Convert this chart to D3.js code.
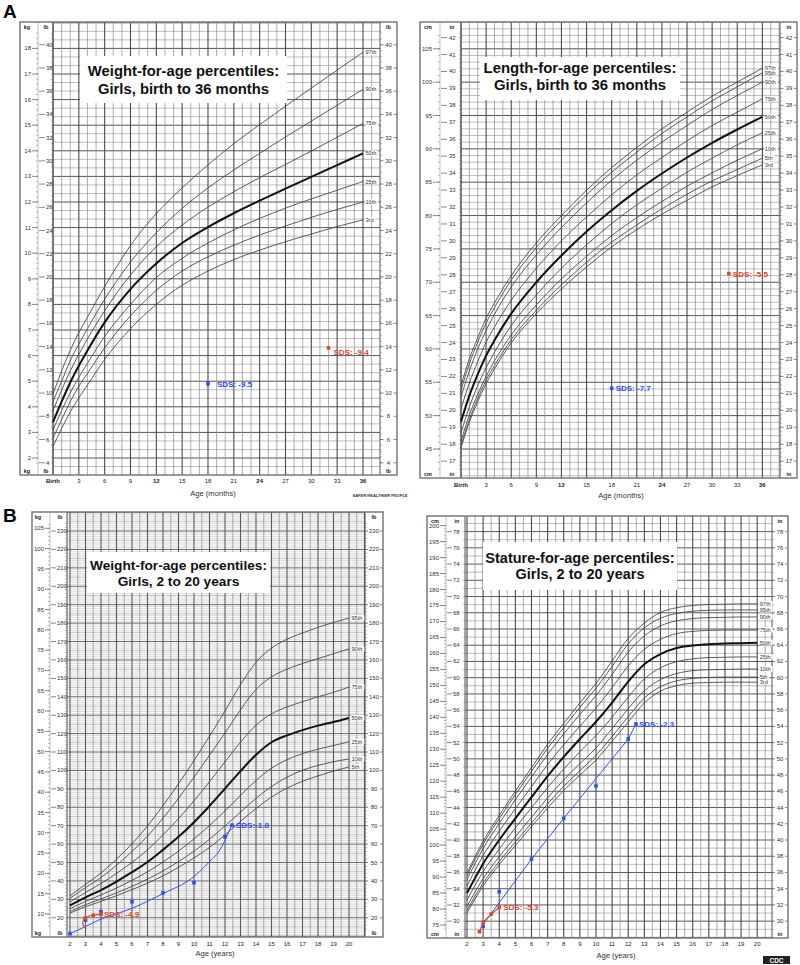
<!DOCTYPE html>
<html><head><meta charset="utf-8">
<script src="https://cdn.jsdelivr.net/npm/d3@7"></script>
<style>
html,body{margin:0;padding:0;background:#fff;}
svg{display:block;font-family:"Liberation Sans",Arial,Helvetica,sans-serif;}
</style></head><body>
<svg id="c" width="800" height="965"></svg>
<script>
// ================= DATA =================
// Panel A left: weight-for-age, girls birth-36 months (kg)
const infMonths = [0,1,2,3,4,6,9,12,15,18,21,24,27,30,33,36];
const wtInf97 = [4.5,5.4,6.2,6.9,7.5,8.7,10.3,11.55,12.55,13.45,14.28,15.02,15.74,16.45,17.15,17.85];
const wtInf90 = [4.2,5.0,5.8,6.45,7.05,8.2,9.65,10.8,11.75,12.55,13.25,13.9,14.54,15.16,15.78,16.4];
const wtInf75 = [3.85,4.65,5.4,6.05,6.65,7.75,9.15,10.25,11.1,11.8,12.4,12.95,13.47,13.99,14.53,15.07];
const wtInf50 = [3.4,4.2,4.95,5.6,6.2,7.3,8.6,9.6,10.4,11.02,11.56,12.05,12.52,12.98,13.44,13.9];
const wtInf25 = [3.1,3.85,4.55,5.15,5.7,6.75,8.0,9.05,9.8,10.4,10.91,11.36,11.76,12.12,12.46,12.8];
const wtInf10 = [2.77,3.5,4.2,4.8,5.3,6.3,7.55,8.55,9.3,9.86,10.31,10.71,11.06,11.4,11.71,12.0];
const wtInf3  = [2.45,3.15,3.8,4.35,4.85,5.85,7.05,8.0,8.75,9.3,9.75,10.12,10.45,10.75,11.04,11.3];
const wtInfLabels = ["97th","90th","75th","50th","25th","10th","3rd"];
const wtInfBlue = [[18, 4.9]];
const wtInfRed  = [[32, 6.3]];

// Panel A right: length-for-age, girls birth-36 months (cm)
const lenInf97 = [54.5,58.5,61.7,64.6,66.9,71.0,75.9,80.0,83.8,87.2,90.2,93.0,95.5,97.9,100.0,102.1];
const lenInf95 = [53.8,57.8,61.0,63.9,66.2,70.3,75.2,79.3,83.1,86.5,89.5,92.3,94.8,97.2,99.3,101.4];
const lenInf90 = [52.8,56.7,60.0,62.8,65.2,69.3,74.1,78.2,81.9,85.3,88.3,91.0,93.5,95.9,98.0,100.0];
const lenInf75 = [51.0,54.9,58.1,61.0,63.3,67.3,72.1,76.2,79.8,83.1,86.1,88.7,91.2,93.5,95.5,97.5];
const lenInf50 = [49.1,53.0,56.2,59.0,61.3,65.3,70.0,74.0,77.6,80.8,83.7,86.3,88.7,90.9,92.9,94.8];
const lenInf25 = [47.4,51.3,54.5,57.2,59.5,63.5,68.1,72.1,75.6,78.8,81.6,84.1,86.5,88.6,90.6,92.4];
const lenInf10 = [46.2,50.1,53.2,55.9,58.2,62.1,66.6,70.5,73.9,77.0,79.7,82.1,84.4,86.4,88.3,90.0];
const lenInf5  = [45.6,49.4,52.6,55.3,57.5,61.4,65.8,69.6,73.0,76.0,78.6,81.0,83.2,85.2,86.9,88.6];
const lenInf3  = [45.2,49.0,52.1,54.8,57.0,60.9,65.3,69.0,72.3,75.3,77.9,80.2,82.3,84.3,86.0,87.6];
const lenInfLabels = ["97th","95th","90th","75th","50th","25th","10th","5th","3rd"];
const lenInfBlue = [[18, 54.1]];
const lenInfRed  = [[32, 71.3]];

// Panel B left: weight-for-age, girls 2-20 years (kg)
const childYears = [2,3,4,5,6,7,8,9,10,11,12,13,14,15,16,17,18,19,20];
const wtCh95 = [14.5,17.3,20.1,23.5,27.3,31.7,36.7,42.1,47.8,53.8,60.0,66.5,72.0,75.5,77.7,79.2,80.6,81.8,82.9];
const wtCh90 = [13.9,16.5,19.0,22.0,25.4,29.2,33.6,38.5,43.7,49.1,54.6,60.3,65.3,68.4,70.3,71.7,72.9,74.1,75.3];
const wtCh75 = [13.0,15.3,17.5,20.0,22.7,25.8,29.5,33.5,37.9,42.6,47.5,52.3,56.5,59.3,61.0,62.3,63.5,64.6,65.9];
const wtCh50 = [12.1,14.1,15.9,18.0,20.3,22.8,25.8,29.0,32.6,36.6,40.9,45.2,49.2,52.3,54.0,55.3,56.4,57.3,58.3];
const wtCh25 = [11.3,13.1,14.7,16.4,18.3,20.4,22.8,25.5,28.5,31.8,35.4,39.2,42.9,45.9,48.0,49.5,50.6,51.5,52.4];
const wtCh10 = [10.6,12.3,13.7,15.2,16.8,18.6,20.6,22.9,25.5,28.4,31.7,35.1,38.5,41.4,43.7,45.4,46.6,47.5,48.2];
const wtCh5  = [10.2,11.8,13.1,14.5,16.0,17.6,19.4,21.5,23.8,26.4,29.5,32.8,36.0,38.8,41.0,42.7,44.0,45.2,46.2];
const wtChLabels = ["95th","90th","75th","50th","25th","10th","5th"];
const wtChBlueFit = [[2.0,5.2],[3.0,6.9],[3.85,8.5],[6.0,11.4],[8.1,15.2],[9.85,18.8],[10.9,22.5],[11.8,26.6],[12.2,29.9],[12.45,31.9]];
const wtChBluePts = [[2.0,5.2],[3.0,8.5],[4.0,10.6],[6.0,13.0],[8.0,15.2],[10.0,17.7],[12.0,29.0],[12.45,31.9]];
const wtChRedFit = [[3.05,6.4],[2.82,7.6],[2.97,9.0],[3.5,9.7],[4.0,9.9]];
const wtChRedPts = [[2.97,9.0],[3.5,9.7],[4.0,9.9]];

// Panel B right: stature-for-age, girls 2-20 years (cm)
const st97 = [91.2,101.2,109.3,116.9,124.2,131.6,138.1,144.5,150.6,157.6,164.7,169.5,172.8,174.3,175.0,175.3,175.4,175.5,175.5];
const st95 = [90.4,100.3,108.3,115.8,123.1,130.3,136.8,143.1,149.1,155.9,163.0,168.0,171.0,172.5,173.2,173.5,173.6,173.6,173.6];
const st90 = [89.2,98.9,106.8,114.2,121.3,128.4,134.8,140.9,146.8,153.4,160.4,165.5,168.6,170.2,170.9,171.2,171.3,171.4,171.4];
const st75 = [87.2,96.7,104.4,111.4,118.3,125.2,131.4,137.2,142.9,149.3,156.1,161.3,164.4,166.2,166.9,167.2,167.3,167.3,167.3];
const st50 = [85.0,94.2,101.6,108.4,115.0,121.6,127.6,133.2,138.6,144.6,151.2,156.6,159.8,161.7,162.5,162.9,163.1,163.2,163.3];
const st25 = [82.8,91.7,98.8,105.4,111.7,118.0,123.8,129.2,134.3,140.0,146.3,152.0,155.5,157.4,158.3,158.7,158.8,158.9,158.9];
const st10 = [80.8,89.5,96.4,102.6,108.7,114.8,120.4,125.5,130.4,136.5,142.7,148.3,151.8,153.7,154.6,154.9,155.0,155.1,155.1];
const st5  = [79.6,88.1,94.9,101.0,106.9,112.9,118.4,123.3,128.1,134.0,140.2,146.0,149.6,151.4,152.2,152.5,152.6,152.6,152.6];
const st3  = [78.8,87.2,93.9,99.9,105.8,111.6,117.1,121.9,126.6,132.5,138.5,144.5,148.2,149.9,150.7,150.9,151.0,151.0,151.0];
const stLabels = ["97th","95th","90th","75th","50th","25th","10th","5th","3rd"];
const stBlueFit = [[3.0,75.2],[6.0,95.6],[8.0,108.4],[12.0,133.2],[12.48,137.9]];
const stBluePts = [[3.0,74.6],[4.0,85.4],[6.0,95.6],[8.0,108.4],[10.0,118.5],[12.0,133.2],[12.48,137.9]];
const stRedFit = [[2.77,72.9],[3.0,75.8],[3.5,78.4],[4.0,80.5]];
const stRedPts = [[2.77,72.9],[3.0,75.8],[3.5,78.4],[4.0,80.5]];

// tick labels
const monthTickVals = [0,3,6,9,12,15,18,21,24,27,30,33,36];
const monthTickLabels = ["Birth","3","6","9","12","15","18","21","24","27","30","33","36"];
const monthBold = ["Birth","12","24","36"];
const yearTickVals = [2,3,4,5,6,7,8,9,10,11,12,13,14,15,16,17,18,19,20];
const yearTickLabels = yearTickVals.map(String);

// ================= DRAWING =================
const svg = d3.select("#c");
const BLUE = "#2f4dff", RED = "#e0442c";

function rangeSteps(a, b, step) {
  const out = [];
  for (let i = Math.ceil(a/step - 1e-9); i*step <= b + 1e-9; i++) out.push(+(i*step).toFixed(6));
  return out;
}
function isMult(v, m) { return Math.abs(v/m - Math.round(v/m)) < 1e-6; }

function drawPanel(p) {
  const g = svg.append("g");
  const x = d3.scaleLinear().domain(p.xDom).range(p.xRng);
  const y = d3.scaleLinear().domain(p.yDom).range(p.yRng);
  const y2 = d3.scaleLinear().domain([p.yDom[0]*p.conv, p.yDom[1]*p.conv]).range(p.yRng);
  const [fx0, fy0, fx1, fy1] = p.frame;
  const [gx0, gx1] = p.gridX;
  g.append("rect").attr("x", fx0).attr("y", fy0).attr("width", fx1-fx0).attr("height", fy1-fy0)
    .attr("fill", "#fff");

  const grid = g.append("g");
  // horizontal grid
  const hs = p.hOnSec ? y2 : y;
  const hv = rangeSteps(hs.invert(fy1), hs.invert(fy0), p.hStep);
  hv.forEach(v => {
    const major = isMult(v, p.hMajor);
    const mid = p.hMid && isMult(v, p.hMid);
    grid.append("line").attr("x1", gx0).attr("x2", gx1).attr("y1", hs(v)).attr("y2", hs(v))
      .attr("stroke", major ? p.hMajorColor : (mid ? "#808080" : p.hMinorColor))
      .attr("stroke-width", major ? 1 : (p.hMinorW || 0.65));
  });
  // vertical grid
  const vv = rangeSteps(x.invert(gx0), x.invert(gx1), p.vStep);
  vv.forEach(v => {
    const major = isMult(v, p.vMajor);
    grid.append("line").attr("y1", fy0).attr("y2", fy1).attr("x1", x(v)).attr("x2", x(v))
      .attr("stroke", major ? p.vMajorColor : p.vMinorColor)
      .attr("stroke-width", major ? 1.1 : 0.7);
  });
  // column dividers
  [gx0, gx1].forEach(xx => grid.append("line").attr("x1", xx).attr("x2", xx).attr("y1", fy0).attr("y2", fy1)
    .attr("stroke", "#555").attr("stroke-width", 1));
  grid.append("line").attr("x1", p.priTickX[1]).attr("x2", p.priTickX[1]).attr("y1", fy0).attr("y2", fy1)
    .attr("stroke", "#999").attr("stroke-width", 0.6);

  // axis labels & ticks
  const lab = g.append("g").attr("font-size", 6).attr("fill", "#333");
  const inside = yy => yy > fy0 + 9 && yy < fy1 - 8;
  p.priTicks.forEach(v => {
    const yy = y(v); if (!inside(yy)) return;
    lab.append("text").attr("x", p.priLabelX).attr("y", yy + 2).attr("text-anchor", "end").text(v);
    lab.append("line").attr("x1", p.priTickX[0]).attr("x2", p.priTickX[1]).attr("y1", yy).attr("y2", yy)
      .attr("stroke", "#555").attr("stroke-width", 0.7);
  });
  rangeSteps(y.invert(fy1 - 8), y.invert(fy0 + 9), p.priMinor).forEach(v => {
    lab.append("line").attr("x1", p.priTickX[1] - 2).attr("x2", p.priTickX[1]).attr("y1", y(v)).attr("y2", y(v))
      .attr("stroke", "#777").attr("stroke-width", 0.5);
  });
  p.secTicks.forEach(v => {
    const yy = y2(v); if (!inside(yy)) return;
    lab.append("text").attr("x", p.secLabelX).attr("y", yy + 2).attr("text-anchor", "start").text(v);
    lab.append("line").attr("x1", p.secTickX[0]).attr("x2", p.secTickX[1]).attr("y1", yy).attr("y2", yy)
      .attr("stroke", "#555").attr("stroke-width", 0.7);
    lab.append("text").attr("x", p.rightLabelX).attr("y", yy + 2).attr("text-anchor", "middle").text(v);
    p.rightTickX.forEach(seg => lab.append("line").attr("x1", seg[0]).attr("x2", seg[1]).attr("y1", yy).attr("y2", yy)
      .attr("stroke", "#555").attr("stroke-width", 0.7));
  });
  rangeSteps(y2.invert(fy1 - 8), y2.invert(fy0 + 9), p.secMinor).forEach(v => {
    lab.append("line").attr("x1", gx0 - 2).attr("x2", gx0).attr("y1", y2(v)).attr("y2", y2(v))
      .attr("stroke", "#777").attr("stroke-width", 0.5);
    lab.append("line").attr("x1", gx1).attr("x2", gx1 + 2).attr("y1", y2(v)).attr("y2", y2(v))
      .attr("stroke", "#777").attr("stroke-width", 0.5);
  });
  // unit headers
  const un = g.append("g").attr("font-size", 5.5).attr("font-weight", "bold").attr("fill", "#222").attr("text-anchor", "middle");
  [fy0 + 7, fy1 - 2.5].forEach(yy => {
    un.append("text").attr("x", p.unitX[0]).attr("y", yy).text(p.units[0]);
    un.append("text").attr("x", p.unitX[1]).attr("y", yy).text(p.units[1]);
    un.append("text").attr("x", p.unitX[2]).attr("y", yy).text(p.units[1]);
  });

  // frame
  g.append("rect").attr("x", fx0).attr("y", fy0).attr("width", fx1-fx0).attr("height", fy1-fy0)
    .attr("fill", "none").attr("stroke", "#7a7a7a").attr("stroke-width", 1.5);

  // title box
  const tb = p.titleBox;
  g.append("rect").attr("x", tb[0]).attr("y", tb[1]).attr("width", tb[2]-tb[0]).attr("height", tb[3]-tb[1]).attr("fill", "#fff");
  p.titleLines.forEach((t, i) => g.append("text").attr("x", p.titleX).attr("y", p.titleY[i])
    .attr("text-anchor", "middle").attr("font-weight", "bold").attr("font-size", p.titleSize)
    .attr("fill", "#111").text(t));

  // percentile curves
  const line = d3.line().x(d => x(d[0])).y(d => y(d[1])).curve(d3.curveMonotoneX);
  const labG = g.append("g");
  p.series.forEach((vals, i) => {
    const data = p.ages.map((a, k) => [a, vals[k]]);
    const bold = p.labels[i] === "50th";
    g.append("path").attr("d", line(data)).attr("fill", "none")
      .attr("stroke", bold ? "#111" : "#4a4a4a").attr("stroke-width", bold ? 2 : 0.9);
    const last = data[data.length - 1];
    const lx = x(last[0]) + 2, ly = y(last[1]);
    labG.append("rect").attr("x", lx).attr("y", ly - 3).attr("width", p.labels[i].length * 3.1 + 1).attr("height", 5.6).attr("fill", "#fff");
    labG.append("text").attr("x", lx + 0.5).attr("y", ly + 2).attr("font-size", 5.6).attr("fill", "#333").text(p.labels[i]);
  });
  labG.raise();

  // x tick labels
  const xt = g.append("g").attr("font-size", 6).attr("fill", "#222").attr("text-anchor", "middle");
  p.xTickVals.forEach((v, i) => xt.append("text").attr("x", x(v)).attr("y", p.xTickY)
    .attr("font-weight", (p.xBold || []).includes(p.xTickLabels[i]) ? "bold" : "normal").text(p.xTickLabels[i]));
  g.append("text").attr("x", p.xTitlePos[0]).attr("y", p.xTitlePos[1]).attr("text-anchor", "middle")
    .attr("font-size", 7.6).attr("fill", "#333").text(p.xTitle);
  return { x, y, g };
}

function overlay(P, color, fit, pts, curve, label, labelPt, dx, width) {
  const line = d3.line().x(d => P.x(d[0])).y(d => P.y(d[1])).curve(curve);
  if (fit) P.g.append("path").attr("d", line(fit)).attr("fill", "none").attr("stroke", color).attr("stroke-width", width || 1);
  pts.forEach(d => P.g.append("rect").attr("x", P.x(d[0]) - 1.8).attr("y", P.y(d[1]) - 1.8)
    .attr("width", 3.6).attr("height", 3.6).attr("fill", color));
  P.g.append("text").attr("x", P.x(labelPt[0]) + dx).attr("y", P.y(labelPt[1]) + 3)
    .attr("font-size", 8).attr("font-weight", "bold").attr("fill", color).text(label);
}

// ---- Panel A left ----
const A1 = drawPanel({
  frame: [20, 22, 397, 475], gridX: [53, 380],
  xDom: [0, 38], xRng: [53, 380.2], yDom: [2, 18], yRng: [458, 48.4], conv: 2.20462,
  vStep: 1, vMajor: 3, vMinorColor: "#8a8a8a", vMajorColor: "#4a4a4a",
  hOnSec: false, hStep: 1/3, hMajor: 1, hMinorColor: "#999", hMajorColor: "#555",
  priTicks: d3.range(2, 19, 1), priLabelX: 31, priTickX: [32, 38], priMinor: 0.2,
  secTicks: d3.range(4, 41, 2), secLabelX: 46, secTickX: [39, 45], secMinor: 0.5,
  rightLabelX: 388.5, rightTickX: [[380, 383.5], [393.5, 397]],
  units: ["kg", "lb"], unitX: [27, 46, 388.5],
  titleBox: [80, 56, 287, 103], titleX: 183.5, titleY: [76, 94], titleSize: 14.8,
  titleLines: ["Weight-for-age percentiles:", "Girls, birth to 36 months"],
  ages: infMonths, series: [wtInf97, wtInf90, wtInf75, wtInf50, wtInf25, wtInf10, wtInf3], labels: wtInfLabels,
  xTickVals: monthTickVals, xTickLabels: monthTickLabels, xBold: monthBold, xTickY: 483,
  xTitle: "Age (months)", xTitlePos: [213, 496]
});
overlay(A1, BLUE, null, wtInfBlue, d3.curveLinear, "SDS: -9.5", wtInfBlue[0], 9);
overlay(A1, RED, null, wtInfRed, d3.curveLinear, "SDS: -9.4", [wtInfRed[0][0], wtInfRed[0][1] - 0.15], 5);

// ---- Panel A right ----
const A2 = drawPanel({
  frame: [420, 22, 797, 478], gridX: [461, 780],
  xDom: [0, 38], xRng: [461, 779.1], yDom: [45, 105], yRng: [449, 48.8], conv: 1/2.54,
  vStep: 1, vMajor: 3, vMinorColor: "#8a8a8a", vMajorColor: "#4a4a4a",
  hOnSec: false, hStep: 1, hMajor: 5, hMinorColor: "#999", hMajorColor: "#555",
  priTicks: d3.range(45, 106, 5), priLabelX: 432, priTickX: [433, 440], priMinor: 1,
  secTicks: d3.range(17, 43, 1), secLabelX: 449, secTickX: [441, 447], secMinor: 0.25,
  rightLabelX: 789, rightTickX: [[780, 783.5], [794, 797]],
  units: ["cm", "in"], unitX: [428, 452, 789],
  titleBox: [480, 57, 680, 100], titleX: 580, titleY: [73, 90], titleSize: 14.9,
  titleLines: ["Length-for-age percentiles:", "Girls, birth to 36 months"],
  ages: infMonths, series: [lenInf97, lenInf95, lenInf90, lenInf75, lenInf50, lenInf25, lenInf10, lenInf5, lenInf3], labels: lenInfLabels,
  xTickVals: monthTickVals, xTickLabels: monthTickLabels, xBold: monthBold, xTickY: 487,
  xTitle: "Age (months)", xTitlePos: [621, 498]
});
overlay(A2, BLUE, null, lenInfBlue, d3.curveLinear, "SDS: -7.7", lenInfBlue[0], 4);
overlay(A2, RED, null, lenInfRed, d3.curveLinear, "SDS: -5.5", lenInfRed[0], 4);

// ---- Panel B left ----
const B1 = drawPanel({
  frame: [32, 512, 383, 937], gridX: [67, 365],
  xDom: [2, 20], xRng: [70, 349], yDom: [10, 105], yRng: [914, 528.3], conv: 2.20462,
  vStep: 0.5, vMajor: 1, vMinorColor: "#8a8a8a", vMajorColor: "#5a5a5a",
  hOnSec: true, hStep: 1, hMajor: 10, hMid: 5, hMinorColor: "#bdbdbd", hMinorW: 0.5, hMajorColor: "#666",
  priTicks: d3.range(10, 106, 5), priLabelX: 44, priTickX: [45, 50], priMinor: 1,
  secTicks: d3.range(20, 231, 10), secLabelX: 57, secTickX: [51, 56], secMinor: 2,
  rightLabelX: 374, rightTickX: [[365, 368], [380, 383]],
  units: ["kg", "lb"], unitX: [38, 60, 374],
  titleBox: [87, 552, 270, 593], titleX: 178.5, titleY: [569.5, 585.5], titleSize: 13.7,
  titleLines: ["Weight-for-age percentiles:", "Girls, 2 to 20 years"],
  ages: childYears, series: [wtCh95, wtCh90, wtCh75, wtCh50, wtCh25, wtCh10, wtCh5], labels: wtChLabels,
  xTickVals: yearTickVals, xTickLabels: yearTickLabels, xTickY: 946,
  xTitle: "Age (years)", xTitlePos: [215, 956]
});
overlay(B1, BLUE, wtChBlueFit, wtChBluePts, d3.curveMonotoneX, "SDS:-1.8", wtChBluePts[wtChBluePts.length - 1], 4);
overlay(B1, RED, wtChRedFit, wtChRedPts, d3.curveCatmullRom, "SDS: -4.9", wtChRedPts[wtChRedPts.length - 1], 3, 1.2);

// ---- Panel B right ----
const B2 = drawPanel({
  frame: [427, 516, 788, 938], gridX: [465, 772],
  xDom: [2, 20], xRng: [467, 757.2], yDom: [75, 200], yRng: [925, 525.6], conv: 1/2.54,
  vStep: 0.5, vMajor: 1, vMinorColor: "#8a8a8a", vMajorColor: "#4a4a4a",
  hOnSec: true, hStep: 1, hMajor: 2, hMinorColor: "#999", hMajorColor: "#5a5a5a",
  priTicks: d3.range(75, 201, 5), priLabelX: 439, priTickX: [440, 446], priMinor: 1,
  secTicks: d3.range(30, 79, 2), secLabelX: 453, secTickX: [447, 452], secMinor: 1,
  rightLabelX: 780, rightTickX: [[772, 775], [785, 788]],
  units: ["cm", "in"], unitX: [435, 457, 780],
  titleBox: [483, 542, 677, 590], titleX: 580, titleY: [563, 579], titleSize: 14.5,
  titleLines: ["Stature-for-age percentiles:", "Girls, 2 to 20 years"],
  ages: childYears, series: [st97, st95, st90, st75, st50, st25, st10, st5, st3], labels: stLabels,
  xTickVals: yearTickVals, xTickLabels: yearTickLabels, xTickY: 946,
  xTitle: "Age (years)", xTitlePos: [616, 958]
});
overlay(B2, BLUE, stBlueFit, stBluePts, d3.curveLinear, "SDS: -2.3", stBluePts[stBluePts.length - 1], 3);
overlay(B2, RED, stRedFit, stRedPts, d3.curveLinear, "SDS: -5.3", stRedPts[stRedPts.length - 1], 4, 1.2);

// panel letters
svg.append("text").attr("x", 3).attr("y", 18).attr("font-size", 19).attr("font-weight", "bold").text("A");
svg.append("text").attr("x", 3).attr("y", 522).attr("font-size", 19).attr("font-weight", "bold").text("B");

// small logos
svg.append("text").attr("x", 380).attr("y", 497).attr("font-size", 4).attr("font-weight", "bold").attr("fill", "#333")
  .attr("text-anchor", "middle").text("SAFER·HEALTHIER·PEOPLE");
svg.append("rect").attr("x", 763).attr("y", 956).attr("width", 27).attr("height", 8).attr("fill", "#222");
svg.append("text").attr("x", 776.5).attr("y", 962.5).attr("font-size", 6.5).attr("font-weight", "bold").attr("fill", "#fff")
  .attr("text-anchor", "middle").text("CDC");
</script>
</body></html>
